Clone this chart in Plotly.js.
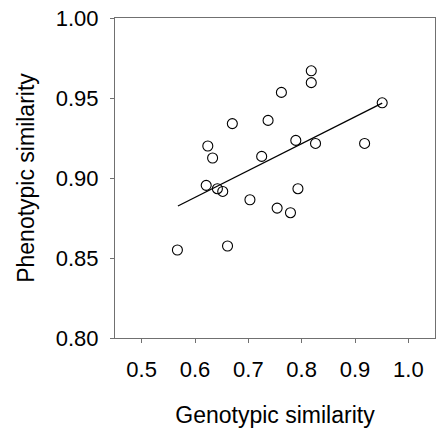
<!DOCTYPE html>
<html>
<head>
<meta charset="utf-8">
<script src="https://cdn.plot.ly/plotly-3.0.1.min.js"></script>
<style>html,body{margin:0;padding:0;background:#fff;}#chart{width:437px;height:436px;}</style>
</head>
<body>
<div id="chart"></div>
<script>
var genotypic = [0.567, 0.661, 0.818, 0.818, 0.762, 0.951, 0.670, 0.737, 0.624, 0.633, 0.725, 0.789, 0.826, 0.918, 0.621, 0.642, 0.652, 0.703, 0.793, 0.754, 0.779];
var phenotypic = [0.855, 0.8575, 0.967, 0.9596, 0.9535, 0.947, 0.934, 0.936, 0.920, 0.9125, 0.9135, 0.9235, 0.9216, 0.9216, 0.8954, 0.8933, 0.8916, 0.8864, 0.8933, 0.8812, 0.8783];
var fitX = [0.568, 0.951];
var fitY = [0.8825, 0.9468];
var xTicks = [0.5, 0.6, 0.7, 0.8, 0.9, 1.0];
var xTickText = ["0.5", "0.6", "0.7", "0.8", "0.9", "1.0"];
var yTicks = [0.80, 0.85, 0.90, 0.95, 1.00];
var yTickText = ["0.80", "0.85", "0.90", "0.95", "1.00"];

var font = "Liberation Sans, Arial, sans-serif";
var traces = [
  {x: fitX, y: fitY, type: "scatter", mode: "lines", line: {color: "#000", width: 1.3}, hoverinfo: "skip"},
  {x: genotypic, y: phenotypic, type: "scatter", mode: "markers",
   marker: {symbol: "circle-open", size: 10, color: "#000", line: {width: 1.1, color: "#000"}}}
];
var axisCommon = {
  showgrid: false, zeroline: false, showline: true, linecolor: "#707070", linewidth: 1,
  mirror: true, ticks: "outside", ticklen: 4, tickwidth: 1, tickcolor: "#707070",
  tickfont: {family: font, size: 22, color: "#000"}
};
var layout = {
  width: 437, height: 436,
  margin: {l: 115, r: 2, t: 18, b: 98},
  paper_bgcolor: "#fff", plot_bgcolor: "#fff",
  showlegend: false,
  xaxis: Object.assign({}, axisCommon, {
    range: [0.45, 1.05], tickvals: xTicks, ticktext: xTickText, ticklabelstandoff: 8,
    title: {text: "Genotypic similarity", font: {family: font, size: 23, color: "#000"}, standoff: 25}
  }),
  yaxis: Object.assign({}, axisCommon, {
    range: [0.80, 1.00], tickvals: yTicks, ticktext: yTickText, ticklabelstandoff: 7,
    title: {text: "Phenotypic similarity", font: {family: font, size: 23, color: "#000"}, standoff: 14}
  })
};
Plotly.newPlot("chart", traces, layout, {staticPlot: true, displayModeBar: false});
</script>
</body>
</html>
